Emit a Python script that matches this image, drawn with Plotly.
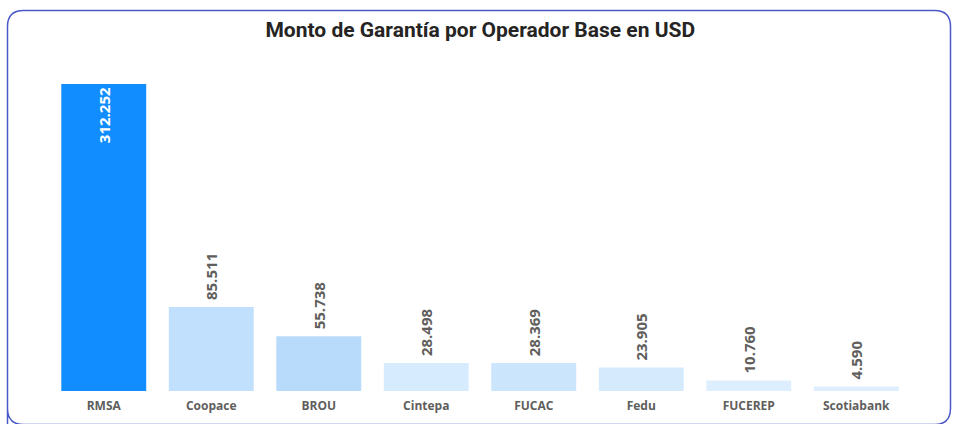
import plotly.graph_objects as go

categories = ["RMSA", "Coopace", "BROU", "Cintepa", "FUCAC", "Fedu", "FUCEREP", "Scotiabank"]
values = [312252, 85511, 55738, 28498, 28369, 23905, 10760, 4590]
labels = ["312.252", "85.511", "55.738", "28.498", "28.369", "23.905", "10.760", "4.590"]
bar_colors = ["#118DFF", "#C0E0FD", "#B8DBFC", "#D6EBFE", "#CBE5FD", "#D6EAFE", "#DDEEFE", "#DEEEFE"]
text_pos = ["inside"] + ["outside"] * 7
text_colors = ["#FFFFFF"] + ["#605E5C"] * 7

W, H = 953, 424
ML, MR, MT, MB = 50, 43, 84, 33
PW, PH = W - ML - MR, H - MT - MB

def px(x):
    return (x - ML) / PW

def py(y):
    return (H - MB - y) / PH

# rounded card border
x0, y0, x1, y1, r = 7.5, 10.5, 950.5, 424.5, 16
path = (
    f"M {px(x0)},{py(y1)} L {px(x0)},{py(y0 + r)} "
    f"Q {px(x0)},{py(y0)} {px(x0 + r)},{py(y0)} "
    f"L {px(x1 - r)},{py(y0)} Q {px(x1)},{py(y0)} {px(x1)},{py(y0 + r)} "
    f"L {px(x1)},{py(y1 - r)} Q {px(x1)},{py(y1)} {px(x1 - r)},{py(y1)} "
    f"L {px(x0 + r)},{py(y1)} Q {px(x0)},{py(y1)} {px(x0)},{py(y1 - r)}"
)

lab_font = dict(family="Open Sans", size=15, color=text_colors, weight="bold")

fig = go.Figure(
    go.Bar(
        x=categories,
        y=values,
        text=labels,
        texttemplate="\u00a0%{text}",
        textposition=text_pos,
        insidetextanchor="end",
        textangle=-90,
        marker=dict(color=bar_colors, line=dict(width=0)),
        textfont=lab_font,
        insidetextfont=lab_font,
        outsidetextfont=lab_font,
        cliponaxis=False,
        hoverinfo="skip",
    )
)

fig.update_layout(
    width=W,
    height=H,
    margin=dict(l=ML, r=MR, t=MT, b=MB, autoexpand=False),
    paper_bgcolor="white",
    plot_bgcolor="white",
    bargap=0.21,
    showlegend=False,
    title=dict(
        text="Monto de Garantía por Operador Base en USD",
        x=0.504,
        xanchor="center",
        y=1 - 30 / H,
        yanchor="middle",
        font=dict(family="Roboto", size=21, color="#252423", weight="bold"),
    ),
    xaxis=dict(
        showgrid=False,
        zeroline=False,
        showline=False,
        automargin=False,
        ticks="",
        ticklabelstandoff=6,
        tickfont=dict(family="Open Sans", size=12, color="#605E5C", weight="bold"),
    ),
    yaxis=dict(
        range=[0, 312252],
        visible=False,
        showgrid=False,
        zeroline=False,
        automargin=False,
    ),
    shapes=[
        dict(
            type="path",
            xref="paper",
            yref="paper",
            path=path,
            line=dict(color="#4A58C8", width=1.5),
            layer="above",
        )
    ],
)

fig.write_html(
    "out.html",
    config={"displayModeBar": False},
    post_script="document.body.style.margin='0';document.body.style.padding='0';",
)
